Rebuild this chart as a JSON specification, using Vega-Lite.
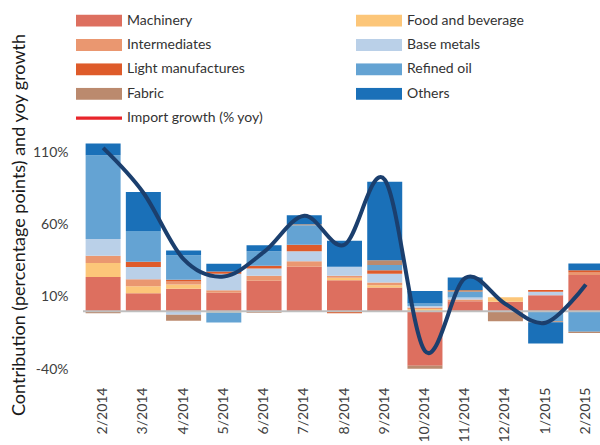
{
  "$schema": "https://vega.github.io/schema/vega-lite/v6.json",
  "width": 517,
  "height": 289,
  "autosize": {"type": "none"},
  "padding": {"left": 83, "top": 80, "right": 0, "bottom": 76},
  "background": "white",
  "config": {"view": {"stroke": null}, "font": "Lato"},
  "datasets": {
    "parts": [
      {"month": "2/2014", "category": "Machinery", "value": 23.6},
      {"month": "2/2014", "category": "Food and beverage", "value": 9.7},
      {"month": "2/2014", "category": "Intermediates", "value": 5.1},
      {"month": "2/2014", "category": "Base metals", "value": 11.5},
      {"month": "2/2014", "category": "Refined oil", "value": 58.1},
      {"month": "2/2014", "category": "Fabric", "value": -1.5},
      {"month": "2/2014", "category": "Others", "value": 8.1},
      {"month": "3/2014", "category": "Machinery", "value": 12.5},
      {"month": "3/2014", "category": "Food and beverage", "value": 4.8},
      {"month": "3/2014", "category": "Intermediates", "value": 4.8},
      {"month": "3/2014", "category": "Base metals", "value": 8.5},
      {"month": "3/2014", "category": "Light manufactures", "value": 3.7},
      {"month": "3/2014", "category": "Refined oil", "value": 21.2},
      {"month": "3/2014", "category": "Others", "value": 27.0},
      {"month": "4/2014", "category": "Machinery", "value": 15.5},
      {"month": "4/2014", "category": "Food and beverage", "value": 3.0},
      {"month": "4/2014", "category": "Intermediates", "value": 2.1},
      {"month": "4/2014", "category": "Base metals", "value": -2.5},
      {"month": "4/2014", "category": "Light manufactures", "value": 1.1},
      {"month": "4/2014", "category": "Refined oil", "value": 17.1},
      {"month": "4/2014", "category": "Fabric", "value": -4.1},
      {"month": "4/2014", "category": "Others", "value": 3.2},
      {"month": "5/2014", "category": "Machinery", "value": 12.7},
      {"month": "5/2014", "category": "Food and beverage", "value": -0.9},
      {"month": "5/2014", "category": "Intermediates", "value": 1.8},
      {"month": "5/2014", "category": "Base metals", "value": 11.5},
      {"month": "5/2014", "category": "Light manufactures", "value": 1.4},
      {"month": "5/2014", "category": "Refined oil", "value": -6.9},
      {"month": "5/2014", "category": "Others", "value": 5.5},
      {"month": "6/2014", "category": "Machinery", "value": 21.0},
      {"month": "6/2014", "category": "Intermediates", "value": 3.5},
      {"month": "6/2014", "category": "Base metals", "value": 5.1},
      {"month": "6/2014", "category": "Light manufactures", "value": 1.8},
      {"month": "6/2014", "category": "Refined oil", "value": 10.1},
      {"month": "6/2014", "category": "Fabric", "value": -1.0},
      {"month": "6/2014", "category": "Others", "value": 4.1},
      {"month": "7/2014", "category": "Machinery", "value": 30.7},
      {"month": "7/2014", "category": "Intermediates", "value": 3.9},
      {"month": "7/2014", "category": "Base metals", "value": 6.9},
      {"month": "7/2014", "category": "Light manufactures", "value": 4.4},
      {"month": "7/2014", "category": "Refined oil", "value": 13.6},
      {"month": "7/2014", "category": "Fabric", "value": 0.7},
      {"month": "7/2014", "category": "Others", "value": 6.2},
      {"month": "8/2014", "category": "Machinery", "value": 21.5},
      {"month": "8/2014", "category": "Food and beverage", "value": 1.6},
      {"month": "8/2014", "category": "Intermediates", "value": 1.4},
      {"month": "8/2014", "category": "Base metals", "value": 6.2},
      {"month": "8/2014", "category": "Light manufactures", "value": -1.4},
      {"month": "8/2014", "category": "Others", "value": 18.0},
      {"month": "9/2014", "category": "Machinery", "value": 16.4},
      {"month": "9/2014", "category": "Food and beverage", "value": 1.6},
      {"month": "9/2014", "category": "Intermediates", "value": 1.8},
      {"month": "9/2014", "category": "Base metals", "value": 6.2},
      {"month": "9/2014", "category": "Light manufactures", "value": 2.3},
      {"month": "9/2014", "category": "Refined oil", "value": 3.7},
      {"month": "9/2014", "category": "Fabric", "value": 3.2},
      {"month": "9/2014", "category": "Others", "value": 54.4},
      {"month": "10/2014", "category": "Machinery", "value": -37.8},
      {"month": "10/2014", "category": "Food and beverage", "value": 1.6},
      {"month": "10/2014", "category": "Intermediates", "value": 1.0},
      {"month": "10/2014", "category": "Base metals", "value": 1.0},
      {"month": "10/2014", "category": "Refined oil", "value": 1.7},
      {"month": "10/2014", "category": "Fabric", "value": -2.0},
      {"month": "10/2014", "category": "Others", "value": 8.7},
      {"month": "11/2014", "category": "Machinery", "value": 6.9},
      {"month": "11/2014", "category": "Intermediates", "value": 1.2},
      {"month": "11/2014", "category": "Base metals", "value": 1.4},
      {"month": "11/2014", "category": "Refined oil", "value": 3.9},
      {"month": "11/2014", "category": "Fabric", "value": 1.2},
      {"month": "11/2014", "category": "Others", "value": 8.8},
      {"month": "12/2014", "category": "Machinery", "value": 6.5},
      {"month": "12/2014", "category": "Food and beverage", "value": 3.2},
      {"month": "12/2014", "category": "Fabric", "value": -6.9},
      {"month": "1/2015", "category": "Machinery", "value": 11.0},
      {"month": "1/2015", "category": "Base metals", "value": 2.5},
      {"month": "1/2015", "category": "Light manufactures", "value": 1.2},
      {"month": "1/2015", "category": "Refined oil", "value": -6.9},
      {"month": "1/2015", "category": "Fabric", "value": -0.7},
      {"month": "1/2015", "category": "Others", "value": -14.7},
      {"month": "2/2015", "category": "Machinery", "value": 25.0},
      {"month": "2/2015", "category": "Intermediates", "value": 1.8},
      {"month": "2/2015", "category": "Light manufactures", "value": 1.6},
      {"month": "2/2015", "category": "Refined oil", "value": -14.3},
      {"month": "2/2015", "category": "Fabric", "value": -0.7},
      {"month": "2/2015", "category": "Others", "value": 4.6}
    ],
    "growth": [
      {"month": "2/2014", "growth": 113},
      {"month": "3/2014", "growth": 82},
      {"month": "4/2014", "growth": 36},
      {"month": "5/2014", "growth": 24},
      {"month": "6/2014", "growth": 41},
      {"month": "7/2014", "growth": 66},
      {"month": "8/2014", "growth": 46},
      {"month": "9/2014", "growth": 91},
      {"month": "10/2014", "growth": -27.5},
      {"month": "11/2014", "growth": 23},
      {"month": "12/2014", "growth": 5},
      {"month": "1/2015", "growth": -8},
      {"month": "2/2015", "growth": 18.5}
    ]
  },
  "layer": [
    {
      "data": {"name": "parts"},
      "transform": [
        {"calculate": "indexof(['Machinery','Food and beverage','Intermediates','Base metals','Light manufactures','Refined oil','Fabric','Others'], datum.category)", "as": "stackRank"}
      ],
      "mark": {"type": "bar"},
      "encoding": {
        "x": {
          "field": "month", "type": "ordinal",
          "sort": ["2/2014","3/2014","4/2014","5/2014","6/2014","7/2014","8/2014","9/2014","10/2014","11/2014","12/2014","1/2015","2/2015"],
          "scale": {"domain": ["2/2014","3/2014","4/2014","5/2014","6/2014","7/2014","8/2014","9/2014","10/2014","11/2014","12/2014","1/2015","2/2015"], "range": [0, 523], "paddingInner": 0.13, "paddingOuter": 0.065},
          "axis": {"title": null, "labelAngle": 270, "domain": false, "ticks": false, "labelPadding": 18, "labelFont": "Lato", "labelFontSize": 14, "labelColor": "#404040"}
        },
        "y": {
          "field": "value", "type": "quantitative", "stack": "zero",
          "scale": {"domain": [-40, 160], "nice": false, "zero": false},
          "axis": {"title": "Contribution (percentage points) and yoy growth", "values": [-40, 10, 60, 110], "labelExpr": "datum.value + '%'", "domain": false, "ticks": false, "grid": false, "labelFont": "Lato", "labelFontSize": 14, "labelColor": "#404040", "labelPadding": 15, "titleFont": "Lato", "titleFontSize": 18, "titleFontWeight": "normal", "titleColor": "#1a1a1a", "titlePadding": 4}
        },
        "order": {"field": "stackRank", "type": "quantitative", "sort": "ascending"},
        "color": {
          "field": "category", "type": "nominal",
          "scale": {
            "domain": ["Machinery","Intermediates","Light manufactures","Fabric","Import growth (% yoy)","Food and beverage","Base metals","Refined oil","Others"],
            "range": ["#DD6F5F","#EA9770","#DE5B2A","#BB8A6E","#E8252A","#FCC679","#BAD0E8","#64A3D3","#1A70B8"]
          },
          "legend": {
            "orient": "none", "legendX": -7, "legendY": -65.5, "columns": 2, "columnPadding": 92, "rowPadding": 10.4,
            "clipHeight": 12, "symbolSize": 2116, "symbolType": "M-1,-0.26H1V0.26H-1Z", "symbolStrokeWidth": 0, "symbolOpacity": 1,
            "labelFont": "Lato", "labelFontSize": 14, "labelColor": "#333333", "labelOffset": 5, "labelLimit": 300,
            "title": null, "padding": 0,
            "encode": {"symbols": {"update": {"shape": {"signal": "datum.value === 'Import growth (% yoy)' ? 'M-1,-0.075H1V0.075H-1Z' : 'M-1,-0.26H1V0.26H-1Z'"}}}}
          }
        }
      }
    },
    {
      "data": {"values": [{}]},
      "mark": {"type": "rule", "color": "#BFBFBF", "strokeWidth": 2},
      "encoding": {"y": {"datum": 0}}
    },
    {
      "data": {"name": "growth"},
      "mark": {"type": "line", "interpolate": "cardinal", "color": "#1B3F6E", "strokeWidth": 4},
      "encoding": {
        "x": {"field": "month", "type": "ordinal", "sort": ["2/2014","3/2014","4/2014","5/2014","6/2014","7/2014","8/2014","9/2014","10/2014","11/2014","12/2014","1/2015","2/2015"]},
        "y": {"field": "growth", "type": "quantitative", "axis": {"title": "Contribution (percentage points) and yoy growth"}}
      }
    }
  ]
}
